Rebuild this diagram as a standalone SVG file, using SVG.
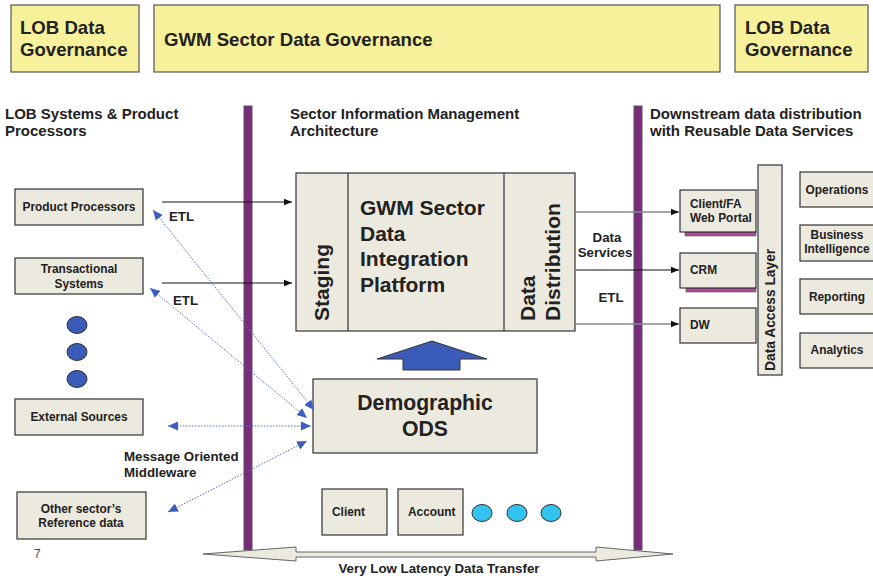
<svg xmlns="http://www.w3.org/2000/svg" width="873" height="578" viewBox="0 0 873 578">
<defs>
<style>
text{font-family:"Liberation Sans",Arial,sans-serif;font-weight:bold;fill:#222}
.gov{fill:#F7F19B;stroke:#555;stroke-width:1.2}
.box{fill:#ECE9DF;stroke:#333;stroke-width:1.2}
.bar{fill:#7B2A7D;stroke:#555;stroke-width:1}
.shadow{fill:#B5479B;stroke:#555;stroke-width:0.6}
.t17{font-size:18.6px}
.t13{font-size:15px}
.t11{font-size:11.9px}
.t12{font-size:13.3px}
.mid{text-anchor:middle}
.blk{stroke:#111;stroke-width:1;fill:none}
.gry{stroke:#888;stroke-width:1.3;fill:none}
.dot{stroke:#4F6FC6;stroke-width:1;stroke-dasharray:1.5 1.5;fill:none}
.cyan{fill:#33C3F0;stroke:#333;stroke-width:1}
.navy{fill:#3A5CB8;stroke:#333;stroke-width:1}
</style>
<marker id="ah" viewBox="0 0 10 10" refX="10" refY="5" markerWidth="8" markerHeight="8" markerUnits="userSpaceOnUse" orient="auto-start-reverse"><path d="M0,1 L10,5 L0,9 Z" fill="#111"/></marker>
<marker id="bh" viewBox="0 0 10 10" refX="10" refY="5" markerWidth="10" markerHeight="10" markerUnits="userSpaceOnUse" orient="auto-start-reverse"><path d="M0,0.5 L10,5 L0,9.5 Z" fill="#3C5EC0"/></marker>
</defs>
<rect width="873" height="578" fill="#fff"/>

<g id="gov-left"><rect class="gov" x="11" y="5" width="128" height="67"/><text class="t17" x="20" y="34">LOB Data</text><text class="t17" x="20" y="56">Governance</text></g>
<g id="gov-sector"><rect class="gov" x="154" y="5" width="566" height="67"/><text class="t17" x="164" y="46">GWM Sector Data Governance</text></g>
<g id="gov-right"><rect class="gov" x="735" y="5" width="133" height="67"/><text class="t17" x="745" y="34">LOB Data</text><text class="t17" x="745" y="56">Governance</text></g>

<g id="headers">
<text class="t13" x="5" y="119">LOB Systems &amp; Product</text><text class="t13" x="5" y="136">Processors</text>
<text class="t13" x="290" y="119">Sector Information Management</text><text class="t13" x="290" y="136">Architecture</text>
<text class="t13" x="650" y="119">Downstream data distribution</text><text class="t13" x="650" y="136">with Reusable Data Services</text>
</g>

<g id="bar-left"><rect class="bar" x="244" y="106" width="8" height="444"/></g>
<g id="bar-right"><rect class="bar" x="634" y="106" width="8" height="444"/></g>

<g id="product-processors"><rect class="box" x="15" y="189" width="128" height="36"/><text class="t11 mid" x="79" y="211">Product Processors</text></g>
<g id="transactional"><rect class="box" x="15" y="258" width="128" height="36"/><text class="t11 mid" x="79" y="273">Transactional</text><text class="t11 mid" x="79" y="288">Systems</text></g>
<g id="dots-left"><ellipse class="navy" cx="77" cy="325" rx="10" ry="8.5"/><ellipse class="navy" cx="77" cy="352" rx="10" ry="8.5"/><ellipse class="navy" cx="77" cy="379" rx="10" ry="8.5"/></g>
<g id="external"><rect class="box" x="15" y="399" width="128" height="36"/><text class="t11 mid" x="79" y="421">External Sources</text></g>
<g id="other-sector"><rect class="box" x="17" y="492" width="129" height="47"/><text class="t11 mid" x="81" y="513">Other sector’s</text><text class="t11 mid" x="81" y="527">Reference data</text></g>
<text x="34" y="558" style="font-weight:normal;font-size:12px;fill:#444">7</text>

<g id="platform">
<rect class="box" x="296" y="173" width="279" height="158"/>
<line x1="348" y1="173" x2="348" y2="331" stroke="#333" stroke-width="1.2"/>
<line x1="504" y1="173" x2="504" y2="331" stroke="#333" stroke-width="1.2"/>
<text style="font-size:21px" transform="translate(329,321) rotate(-90)">Staging</text>
<text style="font-size:21px" x="360" y="215">GWM Sector</text>
<text style="font-size:21px" x="360" y="240.5">Data</text>
<text style="font-size:21px" x="360" y="266">Integration</text>
<text style="font-size:21px" x="360" y="291.5">Platform</text>
<text style="font-size:21px" transform="translate(535,321) rotate(-90)">Data</text>
<text style="font-size:21px" transform="translate(560,321) rotate(-90)">Distribution</text>
</g>

<g id="up-arrow"><path class="navy" d="M403,370 L403,359 L377,359 L432,341 L487,359 L460,359 L460,370 Z"/></g>

<g id="demographic-ods"><rect class="box" x="313" y="379" width="224" height="74"/><text class="mid" style="font-size:21.2px" x="425" y="410">Demographic</text><text class="mid" style="font-size:21.2px" x="425" y="436">ODS</text></g>

<g id="client"><rect class="box" x="322" y="489" width="65" height="46"/><text class="t11" x="332" y="516">Client</text></g>
<g id="account"><rect class="box" x="398" y="489" width="65" height="46"/><text class="t11" x="408" y="516">Account</text></g>
<g id="dots-bottom"><ellipse class="cyan" cx="482" cy="513" rx="10" ry="8.5"/><ellipse class="cyan" cx="517" cy="513" rx="10" ry="8.5"/><ellipse class="cyan" cx="551" cy="513" rx="10" ry="8.5"/></g>

<g id="transfer-arrow"><path d="M203,554 L296,547 L296,552 L596,552 L596,547 L673,554 L596,561 L596,557 L296,557 L296,561 Z" fill="#ECE9DF" stroke="#666" stroke-width="1"/><text class="t12 mid" x="439" y="573">Very Low Latency Data Transfer</text></g>

<g id="web-portal"><rect class="shadow" x="685" y="232" width="71" height="4"/><rect class="box" x="680" y="190" width="76" height="42"/><text class="t11" x="690" y="208">Client/FA</text><text class="t11" x="690" y="222">Web Portal</text></g>
<g id="crm"><rect class="shadow" x="686" y="288" width="70" height="4"/><rect class="box" x="680" y="253" width="76" height="35"/><text class="t11" x="690" y="274">CRM</text></g>
<g id="dw"><rect class="box" x="680" y="308" width="76" height="35"/><text class="t11" x="690" y="329">DW</text></g>
<g id="data-access-layer"><rect class="box" x="758" y="165" width="24" height="210"/><text style="font-size:13.8px" transform="translate(775,371) rotate(-90)">Data Access Layer</text></g>

<g id="operations"><rect class="box" x="800" y="172" width="80" height="35"/><text class="t11 mid" x="837" y="194">Operations</text></g>
<g id="business-intelligence"><rect class="box" x="800" y="225" width="80" height="36"/><text class="t11 mid" x="837" y="239">Business</text><text class="t11 mid" x="837" y="253">Intelligence</text></g>
<g id="reporting"><rect class="box" x="800" y="279" width="80" height="35"/><text class="t11 mid" x="837" y="301">Reporting</text></g>
<g id="analytics"><rect class="box" x="800" y="333" width="80" height="35"/><text class="t11 mid" x="837" y="354">Analytics</text></g>

<g id="connectors">
<line class="blk" x1="162" y1="202" x2="292" y2="202" marker-end="url(#ah)"/>
<line class="blk" x1="162" y1="283" x2="292" y2="283" marker-end="url(#ah)"/>
<text class="t12" x="169" y="221">ETL</text>
<text class="t12" x="173" y="305">ETL</text>
<line class="gry" x1="576" y1="212" x2="679" y2="212" marker-end="url(#ah)"/>
<line class="blk" x1="576" y1="270" x2="679" y2="270" marker-end="url(#ah)"/>
<line class="gry" x1="576" y1="324" x2="679" y2="324" marker-end="url(#ah)"/>
<text class="t12 mid" x="607" y="242">Data</text>
<text class="t12 mid" x="605" y="257">Services</text>
<text class="t12 mid" x="611" y="302">ETL</text>
<line class="dot" x1="153" y1="210" x2="314" y2="410" marker-start="url(#bh)" marker-end="url(#bh)"/>
<line class="dot" x1="150" y1="288" x2="307" y2="418" marker-start="url(#bh)" marker-end="url(#bh)"/>
<line class="dot" x1="168" y1="426" x2="311" y2="426" marker-start="url(#bh)" marker-end="url(#bh)"/>
<line class="dot" x1="168" y1="512" x2="307" y2="441" marker-start="url(#bh)" marker-end="url(#bh)"/>
<text class="t12" x="124" y="461">Message Oriented</text>
<text class="t12" x="124" y="477">Middleware</text>
</g>
</svg>
